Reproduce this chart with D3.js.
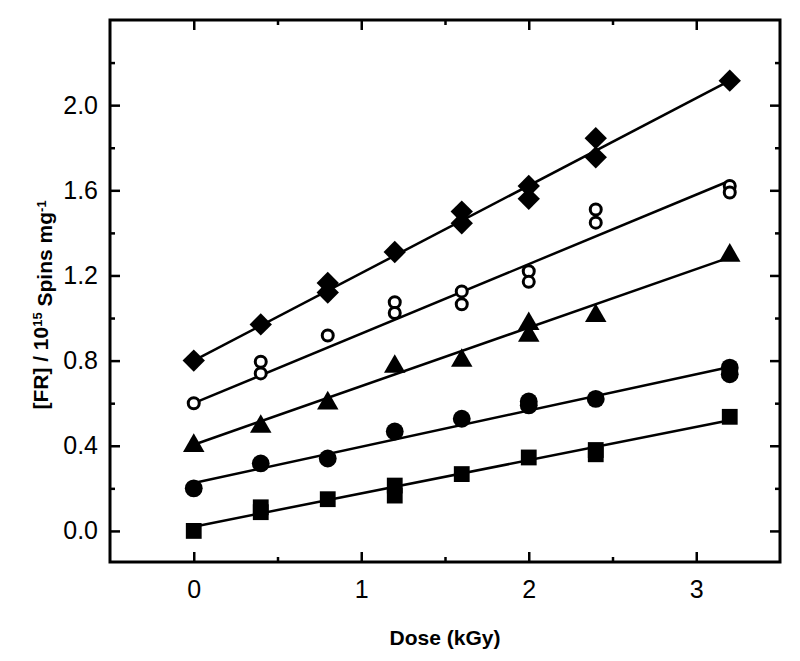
<!DOCTYPE html>
<html>
<head>
<meta charset="utf-8">
<script src="https://cdn.jsdelivr.net/npm/d3@7"></script>
<style>
  html, body { margin: 0; padding: 0; background: #fff; }
  svg { display: block; }
  text { font-family: "Liberation Sans", Arial, sans-serif; fill: #000; }
</style>
</head>
<body>
<div id="chart"></div>
<script>
// ---------------- data ----------------
const xMajorTicks = [0, 1, 2, 3];
const xMinorTicks = [0.5, 1.5, 2.5];
const yMajorTicks = [0.0, 0.4, 0.8, 1.2, 1.6, 2.0];
const yMinorTicks = [0.2, 0.6, 1.0, 1.4, 1.8, 2.2];

const diamondX = [0, 0.4, 0.8, 0.8, 1.2, 1.6, 1.6, 2.0, 2.0, 2.4, 2.4, 3.2];
const diamondY = [0.80, 0.97, 1.165, 1.12, 1.31, 1.50, 1.445, 1.62, 1.56, 1.845, 1.755, 2.115];

const openCircleX = [0, 0.4, 0.4, 0.8, 1.2, 1.2, 1.6, 1.6, 2.0, 2.0, 2.4, 2.4, 3.2, 3.2];
const openCircleY = [0.60, 0.795, 0.74, 0.918, 1.074, 1.024, 1.125, 1.065, 1.22, 1.17, 1.51, 1.448, 1.62, 1.59];

const triangleX = [0, 0.4, 0.8, 1.2, 1.6, 2.0, 2.0, 2.4, 3.2];
const triangleY = [0.40, 0.49, 0.60, 0.772, 0.80, 0.973, 0.918, 1.01, 1.294];

const filledCircleX = [0, 0.4, 0.8, 1.2, 1.6, 2.0, 2.0, 2.4, 3.2, 3.2];
const filledCircleY = [0.20, 0.317, 0.34, 0.467, 0.527, 0.608, 0.59, 0.62, 0.767, 0.736];

const squareX = [0, 0.4, 0.4, 0.8, 1.2, 1.2, 1.6, 2.0, 2.4, 2.4, 3.2];
const squareY = [0.0, 0.111, 0.088, 0.149, 0.213, 0.166, 0.267, 0.345, 0.38, 0.36, 0.536];

// fitted lines: value at dose 0 and at dose 3.2
const fitDose = [0, 3.2];
const diamondFit = [0.80, 2.115];
const openCircleFit = [0.60, 1.645];
const triangleFit = [0.405, 1.285];
const filledCircleFit = [0.225, 0.77];
const squareFit = [0.02, 0.52];

// ---------------- layout ----------------
const W = 800, H = 661;
const margin = { left: 110, right: 20, top: 20, bottom: 99 };

const svg = d3.select("#chart").append("svg")
  .attr("width", W).attr("height", H)
  .style("background", "#fff");

const x = d3.scaleLinear().domain([-0.5, 3.5]).range([margin.left, W - margin.right]);
const y = d3.scaleLinear().domain([-0.146, 2.4]).range([H - margin.bottom, margin.top]);

const x0 = margin.left, x1 = W - margin.right, y0 = H - margin.bottom, y1 = margin.top;

// ---------------- axes ----------------
function styleAxis(g) {
  g.select(".domain").remove();
  g.selectAll(".tick line").attr("stroke", "#000").attr("stroke-width", 2.5);
  g.selectAll("text").style("font-size", "25px").style("font-family", '"Liberation Sans", Arial, sans-serif');
}

// bottom
svg.append("g").attr("transform", `translate(0,${y0})`)
  .call(d3.axisBottom(x).tickValues(xMajorTicks).tickSize(-10).tickPadding(18).tickFormat(d3.format("d")))
  .call(styleAxis);
svg.append("g").attr("transform", `translate(0,${y0})`)
  .call(d3.axisBottom(x).tickValues(xMinorTicks).tickSize(-5).tickFormat(""))
  .call(styleAxis);
// top
svg.append("g").attr("transform", `translate(0,${y1})`)
  .call(d3.axisTop(x).tickValues(xMajorTicks).tickSize(-10).tickFormat(""))
  .call(styleAxis);
svg.append("g").attr("transform", `translate(0,${y1})`)
  .call(d3.axisTop(x).tickValues(xMinorTicks).tickSize(-5).tickFormat(""))
  .call(styleAxis);
// left
svg.append("g").attr("transform", `translate(${x0},0)`)
  .call(d3.axisLeft(y).tickValues(yMajorTicks).tickSize(-10).tickPadding(12).tickFormat(d3.format(".1f")))
  .call(styleAxis);
svg.append("g").attr("transform", `translate(${x0},0)`)
  .call(d3.axisLeft(y).tickValues(yMinorTicks).tickSize(-5).tickFormat(""))
  .call(styleAxis);
// right
svg.append("g").attr("transform", `translate(${x1},0)`)
  .call(d3.axisRight(y).tickValues(yMajorTicks).tickSize(-10).tickFormat(""))
  .call(styleAxis);
svg.append("g").attr("transform", `translate(${x1},0)`)
  .call(d3.axisRight(y).tickValues(yMinorTicks).tickSize(-5).tickFormat(""))
  .call(styleAxis);

// frame
svg.append("rect")
  .attr("x", x0).attr("y", y1)
  .attr("width", x1 - x0).attr("height", y0 - y1)
  .attr("fill", "none").attr("stroke", "#000").attr("stroke-width", 3);

// axis titles
svg.append("text")
  .attr("x", (x0 + x1) / 2).attr("y", 645)
  .attr("text-anchor", "middle")
  .style("font-size", "21px").style("font-weight", "bold")
  .text("Dose (kGy)");

const yt = svg.append("text")
  .attr("transform", `translate(48,${(y0 + y1) / 2 + 14}) rotate(-90)`)
  .attr("text-anchor", "middle")
  .style("font-size", "21px").style("font-weight", "bold");
yt.append("tspan").text("[FR] / 10");
yt.append("tspan").attr("dy", "-0.5em").style("font-size", "13px").text("15");
yt.append("tspan").attr("dy", "0.5em").text(" Spins mg");
yt.append("tspan").attr("dy", "-0.5em").style("font-size", "13px").text("-1");

// ---------------- series ----------------
const series = [
  { xs: diamondX, ys: diamondY, fit: diamondFit, type: "diamond" },
  { xs: openCircleX, ys: openCircleY, fit: openCircleFit, type: "open" },
  { xs: triangleX, ys: triangleY, fit: triangleFit, type: "triangle" },
  { xs: filledCircleX, ys: filledCircleY, fit: filledCircleFit, type: "circle" },
  { xs: squareX, ys: squareY, fit: squareFit, type: "square" }
];

const line = d3.line().x(d => x(d[0])).y(d => y(d[1]));
const plot = svg.append("g");

series.forEach(s => {
  plot.append("path")
    .datum(fitDose.map((v, i) => [v, s.fit[i]]))
    .attr("d", line)
    .attr("fill", "none").attr("stroke", "#000").attr("stroke-width", 2.5);
});

series.forEach(s => {
  const pts = s.xs.map((v, i) => [v, s.ys[i]]);
  let sym, rot = 0, fill = "#000", stroke = "none", sw = 0;
  if (s.type === "diamond") { sym = d3.symbol(d3.symbolSquare, 250); rot = 45; }
  else if (s.type === "open") { sym = d3.symbol(d3.symbolCircle, 95); fill = "#fff"; stroke = "#000"; sw = 3; }
  else if (s.type === "triangle") { sym = d3.symbol(d3.symbolTriangle, 200); }
  else if (s.type === "circle") { sym = d3.symbol(d3.symbolCircle, 250); }
  else { sym = d3.symbol(d3.symbolSquare, 250); }
  plot.selectAll(null).data(pts).enter().append("path")
    .attr("d", sym)
    .attr("transform", d => `translate(${x(d[0])},${y(d[1])}) rotate(${rot})`)
    .attr("fill", fill).attr("stroke", stroke).attr("stroke-width", sw);
});
</script>
</body>
</html>
